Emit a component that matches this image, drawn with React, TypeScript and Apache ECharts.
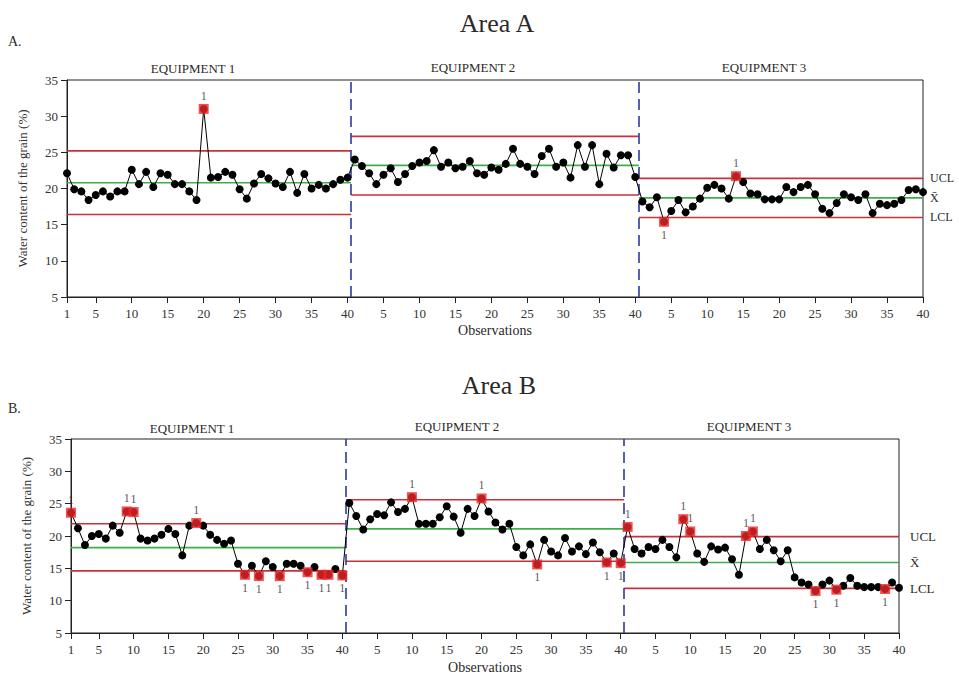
import React, { useEffect, useRef } from "react";
import * as echarts from "echarts";

// ---------- data ----------
const OBS_PER_EQUIPMENT = 40;
const equipmentNames = ["EQUIPMENT 1", "EQUIPMENT 2", "EQUIPMENT 3"];
const yTicks = { min: 5, max: 35, step: 5 };
const limitLabels = ["UCL", "X\u0304", "LCL"];

// Area A — water content per observation, per equipment
const aEq1 = [22.1, 19.9, 19.6, 18.4, 19.1, 19.6, 18.9, 19.6, 19.6, 22.6, 20.6, 22.3, 20.2, 22.1, 21.9, 20.6, 20.6, 19.6, 18.4, 31.0, 21.5, 21.6, 22.3, 21.9, 19.9, 18.6, 20.7, 22.0, 21.4, 20.7, 20.2, 22.3, 19.4, 22.0, 20.0, 20.5, 20.0, 20.6, 21.2, 21.5];
const aEq2 = [24.0, 23.1, 22.1, 20.6, 21.9, 22.8, 20.9, 22.0, 23.1, 23.6, 23.8, 25.3, 23.0, 23.6, 22.8, 23.0, 23.8, 22.1, 21.9, 22.9, 22.6, 23.4, 25.5, 23.4, 23.0, 22.0, 24.5, 25.5, 23.0, 23.6, 21.5, 26.0, 23.0, 26.0, 20.6, 24.8, 22.9, 24.6, 24.6, 21.6];
const aEq3 = [18.2, 17.4, 18.8, 15.4, 16.9, 18.4, 16.7, 17.5, 18.6, 20.1, 20.5, 20.0, 18.6, 21.7, 20.9, 19.3, 19.2, 18.5, 18.5, 18.5, 20.2, 19.5, 20.2, 20.5, 19.2, 17.2, 16.6, 18.0, 19.2, 18.8, 18.4, 19.2, 16.6, 17.9, 17.7, 17.9, 18.4, 19.8, 19.9, 19.5];
const aUCL = [25.2, 27.2, 21.4];
const aCL = [20.8, 23.2, 18.7];
const aLCL = [16.4, 19.1, 16.0];
// [equipment, observation, label side]
const aSignals: [number, number, string][] = [
  [1, 20, "top"],
  [3, 4, "bottom"],
  [3, 14, "top"],
];

// Area B
const bEq1 = [23.6, 21.2, 18.6, 20.0, 20.3, 19.6, 21.6, 20.5, 23.8, 23.7, 19.6, 19.3, 19.6, 20.2, 21.1, 20.3, 17.0, 21.6, 22.0, 21.6, 20.2, 19.4, 18.8, 19.3, 15.7, 14.0, 15.4, 13.8, 16.1, 15.2, 13.8, 15.7, 15.7, 15.4, 14.4, 15.2, 14.0, 14.0, 14.9, 13.9];
const bEq2 = [25.1, 23.1, 21.0, 22.6, 23.4, 23.2, 25.2, 23.7, 24.2, 26.0, 21.9, 21.9, 21.9, 22.9, 24.6, 23.0, 20.5, 24.2, 23.1, 25.8, 23.8, 22.1, 21.0, 21.9, 18.3, 17.0, 18.7, 15.6, 19.4, 17.6, 17.0, 19.7, 17.6, 18.4, 17.2, 19.0, 17.5, 15.9, 17.3, 15.8];
const bEq3 = [21.4, 18.0, 17.3, 18.3, 18.0, 19.4, 18.3, 16.7, 22.6, 20.7, 17.3, 16.0, 18.4, 17.9, 18.2, 16.4, 14.0, 20.0, 20.7, 18.0, 19.4, 17.8, 16.1, 17.8, 13.6, 12.8, 12.5, 11.5, 12.5, 13.1, 11.7, 12.3, 13.5, 12.3, 12.1, 12.1, 12.1, 11.8, 12.8, 12.0];
const bUCL = [21.9, 25.6, 19.9];
const bCL = [18.2, 21.1, 15.9];
const bLCL = [14.6, 16.1, 11.9];
const bSignals: [number, number, string][] = [
  [1, 1, "top"], [1, 9, "top"], [1, 10, "top"], [1, 19, "top"],
  [1, 26, "bottom"], [1, 28, "bottom"], [1, 31, "bottom"], [1, 35, "bottom"],
  [1, 37, "bottom"], [1, 38, "bottom"], [1, 40, "bottom"],
  [2, 10, "top"], [2, 20, "top"], [2, 28, "bottom"], [2, 38, "bottom"], [2, 40, "bottom"],
  [3, 1, "top"], [3, 9, "top"], [3, 10, "top"], [3, 18, "top"], [3, 19, "top"],
  [3, 28, "bottom"], [3, 31, "bottom"], [3, 38, "bottom"],
];

// ---------- styles ----------
const SERIF = "'Liberation Serif', 'DejaVu Serif', 'Times New Roman', serif";
const RED = "#c8313b";
const GREEN = "#3fae4a";
const BLUE = "#2b3a9e";
const MARK_RED = "#ec2628";
const TEXT = "#2a2a2a";

const obsLabels: string[] = [];
for (let e = 0; e < equipmentNames.length; e++)
  for (let j = 1; j <= OBS_PER_EQUIPMENT; j++) obsLabels.push(String(j));
const N = obsLabels.length;
const showTick = (idx: number) => idx === 0 || (idx + 1) % 5 === 0;

function buildPanel(
  p: number,
  eqData: number[][],
  ucl: number[],
  cl: number[],
  lcl: number[],
  signals: [number, number, string][],
  endLabelDistance: number,
  endLabelSize: number
) {
  const valAxis = p * 2 + 1;
  const series: any[] = [];
  const all: number[][] = [];
  eqData.forEach((arr, e) =>
    arr.forEach((v, j) => all.push([e * OBS_PER_EQUIPMENT + j + 1, v]))
  );
  const bounds = [1, OBS_PER_EQUIPMENT + 0.5, 2 * OBS_PER_EQUIPMENT + 0.5, N];
  const limits = [ucl, cl, lcl];
  limits.forEach((lim, k) => {
    lim.forEach((v, e) => {
      const s: any = {
        type: "line",
        xAxisIndex: valAxis,
        yAxisIndex: p,
        color: k === 1 ? GREEN : RED,
        data: [
          [bounds[e], v],
          [bounds[e + 1], v],
        ],
        symbol: "none",
        silent: true,
        z: 3,
        lineStyle: { color: k === 1 ? GREEN : RED, width: 1.6 },
      };
      if (e === lim.length - 1) {
        s.endLabel = {
          show: true,
          formatter: limitLabels[k],
          distance: endLabelDistance,
          fontFamily: SERIF,
          fontSize: endLabelSize,
          color: TEXT,
        };
      }
      series.push(s);
    });
  });
  series.push({
    type: "line",
    xAxisIndex: valAxis,
    yAxisIndex: p,
    color: "#000",
    data: all,
    symbol: "circle",
    symbolSize: 8,
    itemStyle: { color: "#000" },
    lineStyle: { color: "#000", width: 1 },
    z: 5,
    markLine: {
      silent: true,
      symbol: ["none", "none"],
      label: { show: false },
      lineStyle: { color: BLUE, type: [11, 6], width: 1.6 },
      data: [{ xAxis: OBS_PER_EQUIPMENT + 0.5 }, { xAxis: 2 * OBS_PER_EQUIPMENT + 0.5 }],
    },
  });
  const sigLabel = {
    show: true,
    formatter: "{s|1}",
    rich: { s: { fontFamily: SERIF, fontSize: 12, color: TEXT } },
    fontFamily: SERIF,
    fontSize: 12,
    color: TEXT,
    textBorderWidth: 0,
    distance: 2,
  };
  series.push({
    type: "scatter",
    xAxisIndex: valAxis,
    yAxisIndex: p,
    color: MARK_RED,
    symbol: "rect",
    symbolSize: 10,
    z: 6,
    itemStyle: { color: MARK_RED },
    label: sigLabel,
    data: signals.map(([e, j, pos]) => ({
      value: [(e - 1) * OBS_PER_EQUIPMENT + j, eqData[e - 1][j - 1]],
      label: { ...sigLabel, position: pos },
    })),
  });
  return series;
}

export default function App() {
  const ref = useRef<HTMLDivElement>(null);
  useEffect(() => {
    document.body.style.margin = "0";
    if (!ref.current) return;
    const chart = echarts.init(ref.current, null, { renderer: "svg" });
    const grids = [
      { left: 67, top: 80, width: 856, height: 217 },
      { left: 71, top: 439, width: 828, height: 194 },
    ];
    const xAxis: any[] = [];
    const yAxis: any[] = [];
    grids.forEach((_, g) => {
      xAxis.push({
        type: "category",
        gridIndex: g,
        data: obsLabels,
        boundaryGap: false,
        name: "Observations",
        nameLocation: "middle",
        nameGap: g === 0 ? 26 : 27,
        nameTextStyle: { fontFamily: SERIF, fontSize: 14, color: TEXT },
        axisLine: { lineStyle: { color: "#222", width: 1 } },
        axisTick: { interval: (i: number) => showTick(i), length: 6, lineStyle: { color: "#222" } },
        axisLabel: {
          interval: (i: number) => showTick(i),
          fontFamily: SERIF,
          fontSize: 13,
          color: "#333",
          margin: 10,
        },
        splitLine: { show: false },
      });
      xAxis.push({
        type: "value",
        gridIndex: g,
        min: 1,
        max: N,
        show: false,
        splitLine: { show: false },
      });
      yAxis.push({
        type: "value",
        gridIndex: g,
        min: yTicks.min,
        max: yTicks.max,
        interval: yTicks.step,
        name: "Water content of the grain (%)",
        nameLocation: "middle",
        nameGap: 38,
        nameTextStyle: { fontFamily: SERIF, fontSize: 13, color: "#333" },
        axisLine: { show: true, lineStyle: { color: "#222", width: 1 } },
        axisTick: { show: true, length: 6, lineStyle: { color: "#222" } },
        axisLabel: { fontFamily: SERIF, fontSize: 13, color: "#333", margin: 9 },
        splitLine: { show: false },
      });
    });

    const series = [
      ...buildPanel(0, [aEq1, aEq2, aEq3], aUCL, aCL, aLCL, aSignals, 7, 12),
      ...buildPanel(1, [bEq1, bEq2, bEq3], bUCL, bCL, bLCL, bSignals, 11, 13),
    ];

    const txt = (x: number, y: number, text: string, size: number, align = "center") => ({
      type: "text",
      x,
      y,
      style: {
        text,
        fontFamily: SERIF,
        fontSize: size,
        fill: TEXT,
        textAlign: align,
        textVerticalAlign: "middle",
      },
    });

    chart.setOption({
      animation: false,
      backgroundColor: "#fff",
      grid: grids.map((g) => ({
        ...g,
        show: true,
        borderColor: "#222",
        borderWidth: 1,
        backgroundColor: "transparent",
      })),
      xAxis,
      yAxis,
      series,
      graphic: [
        txt(497, 23, "Area A", 26),
        txt(8, 41, "A.", 14, "left"),
        txt(193, 68, equipmentNames[0], 13),
        txt(473, 67, equipmentNames[1], 13),
        txt(764, 67, equipmentNames[2], 13),
        txt(499, 385, "Area B", 26),
        txt(8, 408, "B.", 14, "left"),
        txt(192, 428, equipmentNames[0], 13),
        txt(457, 426, equipmentNames[1], 13),
        txt(749, 426, equipmentNames[2], 13),
      ],
    });
    return () => chart.dispose();
  }, []);
  return <div ref={ref} style={{ width: 959, height: 676 }} />;
}
